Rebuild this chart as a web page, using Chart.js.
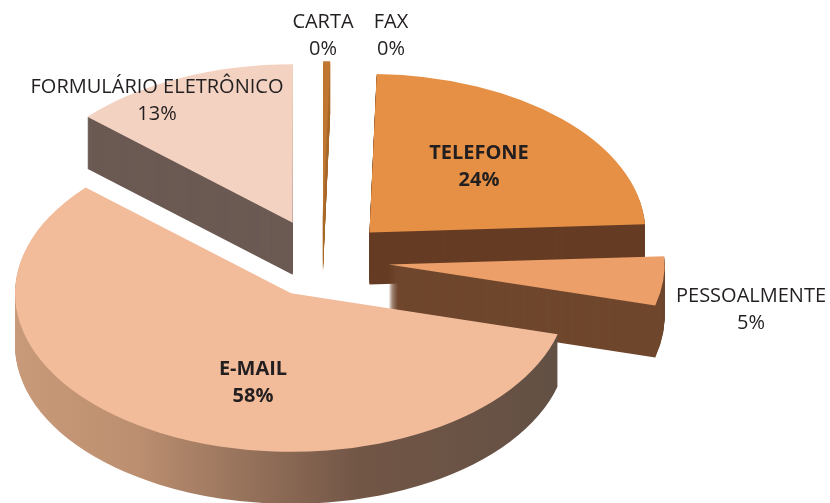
<!DOCTYPE html>
<html>
<head>
<meta charset="utf-8">
<style>
  html, body { margin: 0; padding: 0; background: #fff; }
  canvas { display: block; }
</style>
<script src="https://cdn.jsdelivr.net/npm/chart.js@4"></script>
</head>
<body>
<canvas id="pieChart" width="830" height="503"></canvas>
<script>
const categories = ["TELEFONE", "PESSOALMENTE", "E-MAIL", "FORMULÁRIO ELETRÔNICO", "CARTA", "FAX"];
const values = [23.8, 5, 57.6, 13.4, 0.4, 0];
const percentLabels = ["24%", "5%", "58%", "13%", "0%", "0%"];

const topColors = ["#E69045", "#EC9F68", "#F2BC9B", "#F3D2C2", "#C07830", "#C07830"];
const sideColors = ["#663C24", "#6F472D", null, "#6B5A53", "#A96A2C", "#A96A2C"];
// how far each slice is pulled out of the pie, in screen px
const explode = [68, 67, 65, 72, 71, 0];
// back to front
const drawOrder = [3, 4, 5, 0, 1, 2];

const pieCenter = { x: 322, y: 260.5 };
const radiusX = 276;
const radiusY = 158.5;
const depth = 52;

// center x, first baseline
const labelPos = [
  [479, 159], [751, 302], [253, 375], [157, 93], [323, 28], [391, 28],
];
const labelBold = [true, false, true, false, false, false];

const pie3d = {
  id: "pie3d",
  beforeDatasetsDraw(chart) {
    const ctx = chart.ctx;
    const arcs = chart.getDatasetMeta(0).data;
    const R = arcs[0].outerRadius;
    const cx = arcs[0].x;
    const cy = arcs[0].y;
    const sx = radiusX / R;
    const sy = radiusY / R;

    const emailSide = ctx.createLinearGradient(cx - R, 0, cx + R, 0);
    emailSide.addColorStop(0, "#C89A79");
    emailSide.addColorStop(0.22, "#BC8F70");
    emailSide.addColorStop(0.42, "#96725B");
    emailSide.addColorStop(0.62, "#725646");
    emailSide.addColorStop(1, "#625044");

    drawOrder.forEach((i) => {
      const arc = arcs[i];
      const mid = (arc.startAngle + arc.endAngle) / 2;
      const dx = (Math.cos(mid) * explode[i]) / sx;
      const dy = (Math.sin(mid) * explode[i]) / sx;
      const original = arc.options;
      for (let d = depth; d >= 0; d--) {
        ctx.save();
        ctx.translate(pieCenter.x, pieCenter.y + d);
        ctx.scale(sx, sy);
        ctx.translate(-cx + dx, -cy + dy);
        arc.options = Object.assign({}, original, {
          backgroundColor: d === 0 ? topColors[i] : sideColors[i] || emailSide,
        });
        arc.draw(ctx);
        ctx.restore();
      }
      arc.options = original;
    });
    return false;
  },
  afterDraw(chart) {
    const ctx = chart.ctx;
    ctx.save();
    ctx.fillStyle = "#231F20";
    ctx.textAlign = "center";
    ctx.textBaseline = "alphabetic";
    categories.forEach((name, i) => {
      const [x, y] = labelPos[i];
      ctx.font = (labelBold[i] ? "bold " : "") + "20px 'Open Sans'";
      ctx.fillText(name, x, y);
      ctx.fillText(percentLabels[i], x, y + 26.5);
    });
    ctx.restore();
  },
};

new Chart(document.getElementById("pieChart").getContext("2d"), {
  type: "pie",
  data: {
    labels: categories,
    datasets: [
      {
        data: values,
        backgroundColor: topColors,
        borderWidth: 0,
      },
    ],
  },
  options: {
    responsive: false,
    animation: false,
    rotation: 1.5,
    radius: 200,
    events: [],
    plugins: {
      legend: { display: false },
      tooltip: { enabled: false },
    },
  },
  plugins: [pie3d],
});
</script>
</body>
</html>
